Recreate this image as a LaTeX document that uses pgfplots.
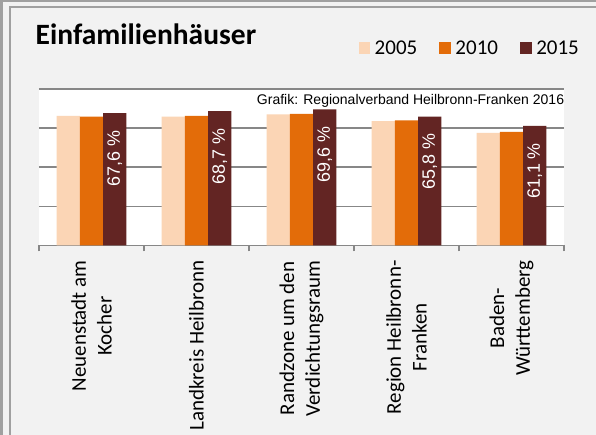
\documentclass[border=0pt]{standalone}
\usepackage{fontspec}
\setmainfont{Carlito}
\newfontfamily\arial{Liberation Sans}
\usepackage{pgfplots}
\pgfplotsset{compat=1.18}
\definecolor{bg}{HTML}{F2F2F2}
\definecolor{c05}{HTML}{FBD5B5}
\definecolor{c10}{HTML}{E36C09}
\definecolor{c15}{HTML}{632523}
\definecolor{gridc}{HTML}{878787}
\definecolor{framec}{HTML}{A0A0A0}
\begin{document}
\begin{tikzpicture}[x=1pt,y=1pt]
\fill[bg] (0,0) rectangle (596,435);
\path[use as bounding box] (0,0) rectangle (596,435);
\fill[framec] (0,0) rectangle (2.5,435);
\fill[framec] (0,432.5) rectangle (596,435);
\fill[framec] (9,0) rectangle (11,428.5);
\fill[framec] (9,427) rectangle (596,428.5);
\node[anchor=base west, inner sep=0pt, font=\bfseries\fontsize{29.5}{33}\selectfont] at (35.5,390.7) {Einfamilienhäuser};
\begin{axis}[
  at={(39pt,189.7pt)}, anchor=south west,
  scale only axis, width=525pt, height=156.3pt,
  xmin=-0.5, xmax=4.5, ymin=0, ymax=80,
  ybar=0pt, bar width=23.3pt,
  legend image code/.code={\fill[#1,draw=none] (0pt,-5.85pt) rectangle (11.7pt,5.85pt);},
  axis background/.style={fill=white},
  axis x line*=bottom, axis y line*=left,
  y axis line style={draw=none},
  x axis line style={draw=gridc, line width=1.3pt},
  ytick={20,40,60,80}, yticklabels={}, ymajorgrids,
  grid style={draw=gridc, line width=1.3pt},
  y tick style={draw=none},
  xtick={0,1,2,3,4},
  xticklabels={{Neuenstadt am\\Kocher},{Landkreis Heilbronn},{Randzone um den\\Verdichtungsraum},{Region Heilbronn-\\Franken},{Baden-\\Württemberg}},
  xticklabel style={rotate=90, anchor=east, align=center, font=\fontsize{21}{25.6}\selectfont, inner xsep=15pt, inner ysep=0pt, text=black},
  major x tick style={draw=none},
  major tick length=0pt,
  minor xtick={-0.5,0.5,1.5,2.5,3.5,4.5},
  minor tick length=6pt,
  minor x tick style={draw=gridc, line width=1.3pt},
  xtick align=outside,
  legend columns=3,
  legend style={at={(0.6082,1.261)}, anchor=west, draw=none, fill=none, inner sep=0pt,
    font=\fontsize{21}{25}\selectfont, nodes={inner sep=0pt},
    /tikz/every odd column/.append style={column sep=4.5pt},
    /tikz/every even column/.append style={column sep=22pt}},
]
\addplot[fill=c05, draw=none] coordinates {(0,66.2) (1,65.8) (2,67.0) (3,63.6) (4,57.6)};
\addplot[fill=c10, draw=none] coordinates {(0,65.8) (1,66.3) (2,67.3) (3,63.9) (4,58.1)};
\addplot[fill=c15, draw=none,
  nodes near coords={\pgfmathprintnumber[fixed,fixed zerofill,precision=1,use comma,assume math mode=true]{\pgfplotspointmeta}~\%},
  every node near coord/.append style={rotate=90, anchor=east, text=white, font=\arial\fontsize{17.9}{20}\selectfont, inner xsep=17pt, inner ysep=0pt}]
  coordinates {(0,67.6) (1,68.7) (2,69.6) (3,65.8) (4,61.1)};
\legend{2005,2010,2015}
\end{axis}
\node[anchor=base east, inner sep=0pt, font=\arial\fontsize{14}{16}\selectfont] at (564.3,330) {Grafik: Regionalverband Heilbronn-Franken 2016};
\end{tikzpicture}
\end{document}
